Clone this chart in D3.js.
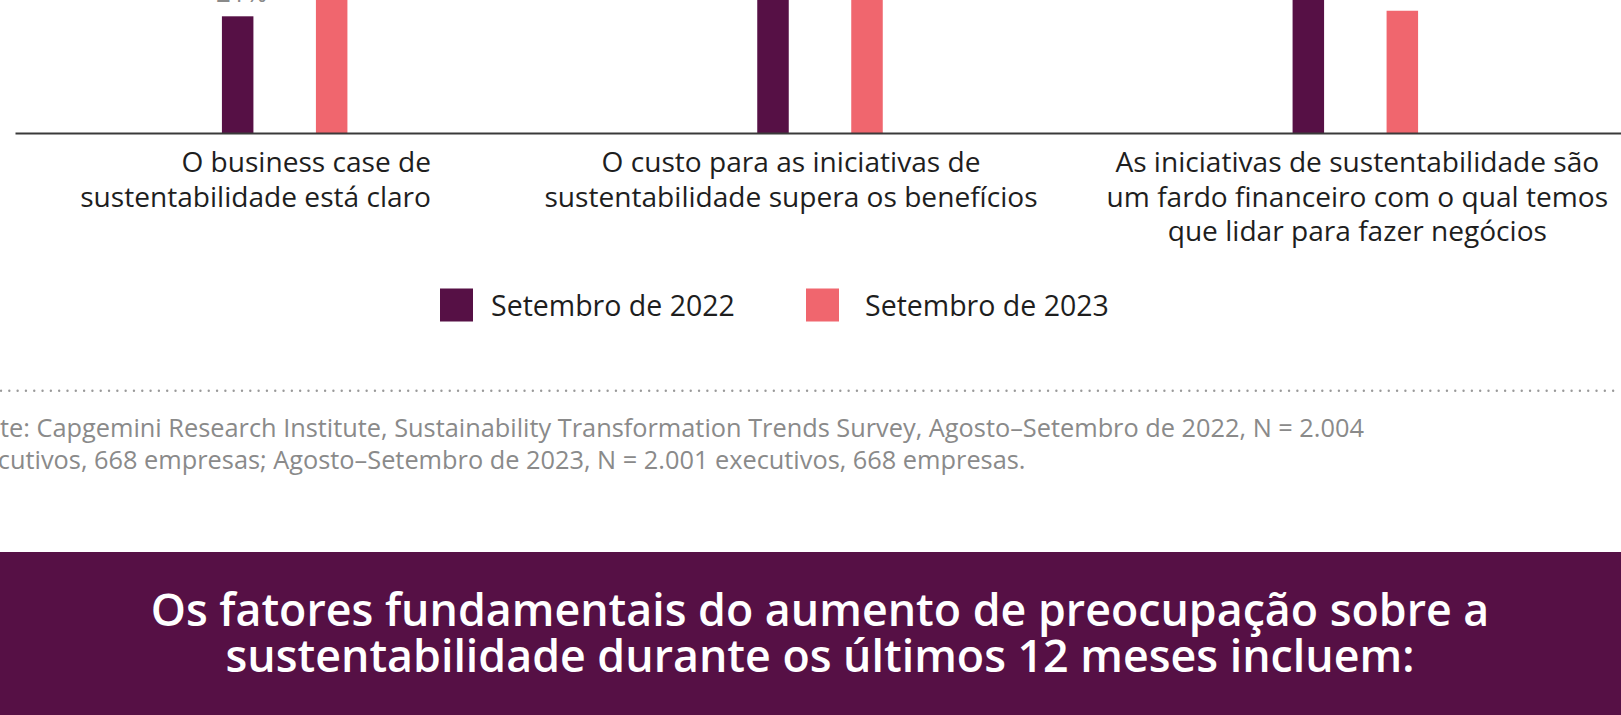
<!DOCTYPE html>
<html><head><meta charset="utf-8">
<script src="https://cdn.jsdelivr.net/npm/d3@7"></script>
<style>html,body{margin:0;padding:0;background:#fff;overflow:hidden}svg{display:block}</style>
</head><body>
<svg id="chart" width="1621" height="715"></svg>
<script>
const categories = [
  ["O business case de", "sustentabilidade está claro"],
  ["O custo para as iniciativas de", "sustentabilidade supera os benefícios"],
  ["As iniciativas de sustentabilidade são", "um fardo financeiro com o qual temos", "que lidar para fazer negócios"]
];
const series = ["Setembro de 2022", "Setembro de 2023"];
const values2022 = [21, 45, 50];
const values2023 = [38, 55, 22];
const sourceLines = [
  "Fonte: Capgemini Research Institute, Sustainability Transformation Trends Survey, Agosto–Setembro de 2022, N = 2.004",
  "executivos, 668 empresas; Agosto–Setembro de 2023, N = 2.001 executivos, 668 empresas."
];
const bannerLines = [
  "Os fatores fundamentais do aumento de preocupação sobre a",
  "sustentabilidade durante os últimos 12 meses incluem:"
];

const colors = ["#561045", "#F0666E"];
const FONT = "'Open Sans', 'Noto Sans', sans-serif";
const svg = d3.select("#chart");

function fitSize(sel, target) {
  sel.style("font-size", "100px");
  const w = sel.node().getComputedTextLength();
  return 100 * target / w;
}

const baseY = 133;
const y = d3.scaleLinear().domain([0, 100]).range([baseY, baseY - 555.7]);
const x0 = d3.scaleBand().domain(d3.range(categories.length)).range([15, 1621]);
const x1 = d3.scalePoint().domain(series).range([-45, 49]);
const barW = 31.5;

const data = categories.map((c, i) => ({i, vals: [values2022[i], values2023[i]]}));

const g = svg.append("g");
const groups = g.selectAll("g.grp").data(data).join("g")
  .attr("transform", d => `translate(${x0(d.i) + x0.bandwidth() / 2},0)`);

groups.selectAll("rect").data(d => d.vals.map((v, k) => ({v, s: series[k], k}))).join("rect")
  .attr("x", d => x1(d.s) - barW / 2)
  .attr("width", barW)
  .attr("y", d => y(d.v))
  .attr("height", d => baseY - y(d.v))
  .attr("fill", d => colors[d.k]);

groups.selectAll("text.val").data(d => d.vals.map((v, k) => ({v, s: series[k], k}))).join("text")
  .attr("class", "val")
  .attr("x", d => x1(d.s) + 4)
  .attr("y", d => y(d.v) - 14)
  .attr("text-anchor", "middle")
  .style("font-family", FONT)
  .style("font-size", "26px")
  .attr("fill", "#8a8a8a")
  .text(d => d.v + "%");

// axis baseline
const axis = d3.axisBottom(x0).tickSize(0).tickFormat("");
svg.append("g").attr("transform", `translate(0,${baseY})`).call(axis)
  .call(a => a.select(".domain").attr("stroke", "#3a3a3a").attr("stroke-width", 2.2));

// category labels
const probe = svg.append("text").style("font-family", FONT).text(categories[0][1]);
const catSize = fitSize(probe, 351);
probe.remove();
const labelPos = [
  {x: 431, anchor: "end"},
  {x: x0(1) + x0.bandwidth() / 2 - 27, anchor: "middle"},
  {x: x0(2) + x0.bandwidth() / 2 + 4, anchor: "middle"}
];
categories.forEach((lines, i) => {
  const t = svg.append("text")
    .attr("text-anchor", labelPos[i].anchor)
    .style("font-family", FONT).style("font-size", catSize + "px")
    .attr("fill", "#1e1e1e");
  lines.forEach((l, j) => t.append("tspan").attr("x", labelPos[i].x).attr("y", 172 + j * 34.5).text(l));
});

// legend
const legX = [440, 806];
const legTextX = [491, 865];
series.forEach((s, k) => {
  svg.append("rect").attr("x", legX[k]).attr("y", 288.5).attr("width", 33).attr("height", 33).attr("fill", colors[k]);
});
const lp = svg.append("text").style("font-family", FONT).text(series[0]);
const legSize = fitSize(lp, 244);
lp.remove();
series.forEach((s, k) => {
  svg.append("text").attr("x", legTextX[k]).attr("y", 316)
    .style("font-family", FONT).style("font-size", legSize + "px").attr("fill", "#1e1e1e").text(s);
});

// dotted separator
svg.append("line").attr("x1", 1).attr("x2", 1621).attr("y1", 390.7).attr("y2", 390.7)
  .attr("stroke", "#9a9a9a").attr("stroke-width", 2.4).attr("stroke-linecap", "round")
  .attr("stroke-dasharray", "0.01 8.3");

// source
const sp = svg.append("text").style("font-family", FONT).text(sourceLines[0].slice(3));
const srcSize = fitSize(sp, 1365);
sp.style("font-size", srcSize + "px").text("Fon");
const offset = sp.node().getComputedTextLength();
sp.remove();
sourceLines.forEach((l, j) => {
  svg.append("text").attr("x", -offset).attr("y", 437 + j * 31.5)
    .style("font-family", FONT).style("font-size", srcSize + "px").attr("fill", "#8a8a8a").text(l);
});

// banner
svg.append("rect").attr("x", 0).attr("y", 552).attr("width", 1621).attr("height", 163).attr("fill", "#561045");
const bp = svg.append("text").style("font-family", FONT).style("font-weight", 600).text(bannerLines[0]);
const banSize = fitSize(bp, 1339);
bp.remove();
bannerLines.forEach((l, j) => {
  svg.append("text").attr("x", 820).attr("y", 626 + j * 46).attr("text-anchor", "middle")
    .style("font-family", FONT).style("font-weight", 600).style("font-size", banSize + "px")
    .attr("fill", "#ffffff").text(l);
});
</script>
</body></html>
